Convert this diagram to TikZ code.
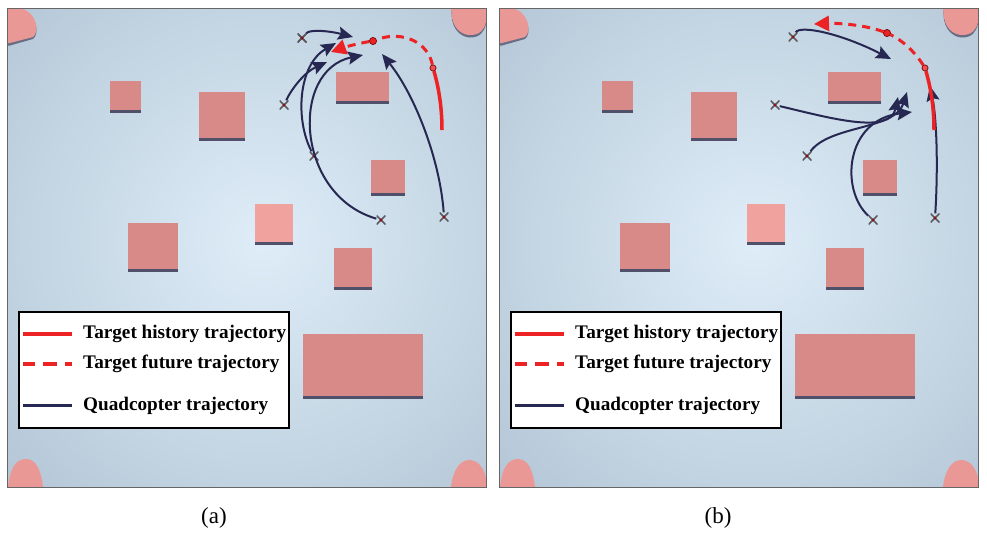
\documentclass[tikz,border=0pt]{standalone}
\usepackage{fontspec}
\setmainfont{Liberation Serif}
\usetikzlibrary{arrows.meta}

\definecolor{bgin}{RGB}{222,237,248}
\definecolor{bgout}{RGB}{158,178,196}
\definecolor{obstpink}{RGB}{215,138,136}
\definecolor{obstlit}{RGB}{240,162,158}
\definecolor{obstshade}{RGB}{80,80,106}
\definecolor{blobpink}{RGB}{234,152,150}
\definecolor{quadblue}{RGB}{38,40,82}
\definecolor{targred}{RGB}{237,34,36}
\definecolor{quadgrey}{RGB}{90,90,96}

\tikzset{
  obst/.style={fill=obstpink},
  shade3/.style={fill=obstshade},
  traj/.style={draw=quadblue, line width=2pt, -{Stealth[length=15pt,width=13pt,inset=2.5pt]}},
  hist/.style={draw=targred, line width=3.5pt},
  future/.style={draw=targred, line width=3pt, dash pattern=on 8pt off 6pt},
  futuretip/.style={future, -{Triangle[length=15pt,width=15pt]}},
  quad/.style={inner sep=0pt, minimum size=9pt,
    path picture={
      \draw[quadgrey, line width=1.6pt]
        (path picture bounding box.north west) -- (path picture bounding box.south east)
        (path picture bounding box.north east) -- (path picture bounding box.south west);
      \fill[targred!60!black] (path picture bounding box.center) circle (1.6pt);}},
  wpt/.style={circle, fill=targred, draw=targred!50!black, line width=0.6pt,
    inner sep=0pt, minimum size=7pt},
  legbox/.style={draw=black, fill=white, line width=2pt},
  legtext/.style={anchor=west, inner sep=0pt, font=\fontsize{19.2}{21}\selectfont\bfseries},
  caption/.style={font=\fontsize{23}{26}\selectfont},
}

% one arena, drawn once for each panel
\newcommand{\arena}[1]{%
  \begin{scope}
    \clip (7,8) rectangle (486,487);
    \shade[inner color=bgin, outer color=bgout] (262,240) circle (540);
  \end{scope}
  % obstacles, each with its dark edge below
  \foreach \xa/\ya/\xb/\yb in {110/81/141/110, 199/92/245/138, 336/72/389/101,
      371/160/405/193, 128/223/178/269, 334/248/372/287, 303/334/423/396}{
    \fill[shade3] (\xa,\ya+3) rectangle (\xb,\yb+3);
    \fill[obst] (\xa,\ya) rectangle (\xb,\yb);
  }
  \fill[shade3] (255,207) rectangle (293,245);
  \fill[obstlit] (255,204) rectangle (293,242);
  % corner pieces
  \fill[obstshade!70!bgout] (7,10) -- (20,10) .. controls (37,14) and (40,34) .. (33,39) -- (10,45.5) -- (7,45.5) -- cycle;
  \fill[blobpink] (7,8) -- (20,8) .. controls (37,12) and (40,32) .. (33,37) -- (10,43) -- (7,43) -- cycle;
  \fill[obstshade!70!bgout] (451,8) -- (452,20) .. controls (455,34) and (465,37.5) .. (470,37.5)
    .. controls (480,37.5) and (484,32) .. (486,24) -- (486,8) -- cycle;
  \fill[blobpink] (451,8) -- (452,18) .. controls (455,32) and (465,35) .. (470,35)
    .. controls (480,35) and (484,30) .. (486,22) -- (486,8) -- cycle;
  \fill[blobpink] (8,487) .. controls (10,468) and (16,459) .. (26,459)
    .. controls (36,459) and (41,470) .. (43,487) -- cycle;
  \fill[blobpink] (451,487) .. controls (453,470) and (460,460) .. (469,460)
    .. controls (478,460) and (484,468) .. (486,478) -- (486,487) -- cycle;
  \draw[gray!80!black, line width=0.8pt] (7,8) rectangle (486,487);
  % legend
  \draw[legbox] (19,312) rectangle (289,428);
  \draw[targred, line width=3.5pt] (23,334) -- (72,334);
  \draw[targred, line width=3.5pt, dash pattern=on 12pt off 8pt on 14pt off 8pt] (23,364) -- (72,364);
  \draw[quadblue, line width=3pt] (23,405) -- (72,405);
  \node[legtext] (#1hist) at (83,334) {Target history trajectory};
  \node[legtext] (#1fut) at (83,364) {Target future trajectory};
  \node[legtext] (#1quad) at (83,406) {Quadcopter trajectory};
}

\begin{document}
\begin{tikzpicture}[x=1pt, y=-1pt]
  \useasboundingbox (0,0) rectangle (987,539);

  \begin{scope}\arena{a}\end{scope}
  \begin{scope}[xshift=492pt]\arena{b}\end{scope}

  % (a)
  \node[quad] (qa1) at (302,38) {};
  \node[quad] (qa2) at (284,105) {};
  \node[quad] (qa3) at (314,156) {};
  \node[quad] (qa4) at (381,220) {};
  \node[quad] (qa5) at (444,217) {};
  \coordinate (ta1) at (353,37);
  \coordinate (ta2) at (327,62);
  \coordinate (ta3) at (336,43);
  \coordinate (ta4) at (363,55);
  \coordinate (ta5) at (382,54);
  \coordinate (ha) at (442,130);
  \coordinate (fa) at (331,52);
  \node[wpt, minimum size=6pt, fill=targred!80!white] (wa1) at (433,68) {};
  \node[wpt] (wa2) at (373,41) {};

  \draw[traj] (qa1) .. controls (310,29) and (330,31) .. (ta1);
  \draw[traj] (qa2) .. controls (292,88) and (305,72) .. (ta2);
  \draw[traj] (qa3) .. controls (295,120) and (298,65) .. (ta3);
  \draw[traj] (qa4) .. controls (295,195) and (290,70) .. (ta4);
  \draw[traj] (qa5) .. controls (440,160) and (415,95) .. (ta5);
  \draw[hist] (ha) .. controls (442,105) and (438,85) .. (wa1);
  \draw[future] (wa1) .. controls (428,42) and (402,30) .. (wa2);
  \draw[futuretip] (wa2) .. controls (360,43) and (345,47) .. (fa);
  \node[wpt, minimum size=6pt, fill=targred!80!white] at (wa1) {};
  \node[wpt] at (wa2) {};
  \node[quad] at (qa1) {};

  % (b)
  \node[quad] (qb1) at (793,37) {};
  \node[quad] (qb2) at (775,105) {};
  \node[quad] (qb3) at (807,156) {};
  \node[quad] (qb4) at (873,220) {};
  \node[quad] (qb5) at (935,218) {};
  \coordinate (tb1) at (891,59);
  \coordinate (tb2) at (898,97);
  \coordinate (tb3) at (907,92);
  \coordinate (tb4) at (912,112);
  \coordinate (tb5) at (930,86);
  \coordinate (hb) at (934,130);
  \coordinate (fb) at (814,24);
  \node[wpt, minimum size=6pt, fill=targred!80!white] (wb1) at (925,68) {};
  \node[wpt] (wb2) at (887,33) {};

  \draw[traj] (qb1) .. controls (800,25) and (840,33) .. (tb1);
  \draw[traj] (qb2) .. controls (830,118) and (890,135) .. (tb2);
  \draw[traj] (qb3) .. controls (830,125) and (895,130) .. (tb3);
  \draw[traj] (qb4) .. controls (840,190) and (845,120) .. (tb4);
  \draw[traj] (qb5) .. controls (938,170) and (937,120) .. (tb5);
  \draw[hist] (hb) .. controls (934,105) and (930,85) .. (wb1);
  \draw[future] (wb1) .. controls (915,52) and (902,40) .. (wb2);
  \draw[futuretip] (wb2) .. controls (865,25) and (840,23) .. (fb);
  \node[wpt, minimum size=6pt, fill=targred!80!white] at (wb1) {};
  \node[wpt] at (wb2) {};

  \node[caption] (capa) at (214,518) {(a)};
  \node[caption] (capb) at (718,518) {(b)};
\end{tikzpicture}
\end{document}
